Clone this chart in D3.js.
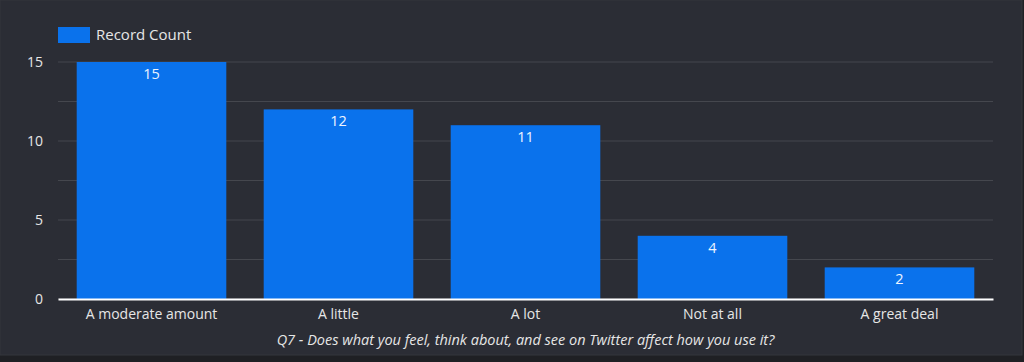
<!DOCTYPE html>
<html>
<head>
<meta charset="utf-8">
<script src="https://cdn.jsdelivr.net/npm/d3@7"></script>
<style>
  html, body { margin: 0; padding: 0; background: #1f2024; }
  svg { display: block; }
  svg text { font-family: "Open Sans", "Noto Sans", sans-serif; }
</style>
</head>
<body>
<div class="chart"></div>
<script>
// data
var categories = ["A moderate amount", "A little", "A lot", "Not at all", "A great deal"];
var counts = [15, 12, 11, 4, 2];
var gridTicks = [0, 2.5, 5, 7.5, 10, 12.5, 15];
var labelTicks = [0, 5, 10, 15];
var seriesName = "Record Count";
var axisTitle = "Q7 - Does what you feel, think about, and see on Twitter affect how you use it?";

var width = 1024;
var height = 362;
var margin = {top: 62, right: 31, bottom: 63, left: 58};

var svg = d3.select(".chart").append("svg")
  .attr("width", width)
  .attr("height", height);

// achtergrondpaneel met randje
svg.append("rect")
  .attr("x", 0).attr("y", 0)
  .attr("width", 1022).attr("height", 355)
  .attr("fill", "#2b2d35")
  .attr("stroke", "#34363d")
  .attr("stroke-width", 1);

var x = d3.scaleBand()
  .domain(categories)
  .range([margin.left, width - margin.right])
  .paddingInner(0.2)
  .paddingOuter(0.1);

var y = d3.scaleLinear()
  .domain([0, 15])
  .range([height - margin.bottom, margin.top]);

// rasterlijnen
svg.append("g")
  .selectAll("line")
  .data(gridTicks)
  .enter()
  .append("line")
  .attr("x1", margin.left)
  .attr("x2", width - margin.right)
  .attr("y1", d => y(d))
  .attr("y2", d => y(d))
  .attr("stroke", "#45474e")
  .attr("stroke-width", 1);

// y-as labels
var yAxis = d3.axisLeft(y)
  .tickValues(labelTicks)
  .tickSize(0)
  .tickPadding(15);
var yg = svg.append("g")
  .attr("transform", "translate(" + margin.left + ",0)")
  .call(yAxis)
  .attr("font-family", null);
yg.select(".domain").remove();
yg.selectAll("text")
  .attr("fill", "#e6e6e6")
  .style("font-size", "14px");

// staven
svg.append("g")
  .selectAll("rect")
  .data(counts)
  .enter()
  .append("rect")
  .attr("x", (d, i) => x(categories[i]))
  .attr("y", d => y(d))
  .attr("width", x.bandwidth())
  .attr("height", d => y(0) - y(d))
  .attr("fill", "#0a72ec");

// waardes in de staven
svg.append("g")
  .selectAll("text")
  .data(counts)
  .enter()
  .append("text")
  .attr("x", (d, i) => x(categories[i]) + x.bandwidth() / 2)
  .attr("y", d => y(d) + 17)
  .attr("text-anchor", "middle")
  .attr("fill", "#eef4ff")
  .style("font-size", "14.5px")
  .text(d => d);

// x-as
var xAxis = d3.axisBottom(x)
  .tickSize(0)
  .tickPadding(10);
var xg = svg.append("g")
  .attr("transform", "translate(0," + y(0) + ")")
  .call(xAxis)
  .attr("font-family", null);
xg.select(".domain")
  .attr("stroke", "#ffffff")
  .attr("stroke-width", 2);
xg.selectAll("text")
  .attr("fill", "#e6e6e6")
  .style("font-size", "14px");

// as-titel
svg.append("text")
  .attr("x", (margin.left + width - margin.right) / 2)
  .attr("y", 345)
  .attr("text-anchor", "middle")
  .attr("fill", "#e6e6e6")
  .style("font-size", "14.5px")
  .style("font-style", "italic")
  .text(axisTitle);

// legende
var legend = svg.append("g")
  .attr("transform", "translate(58,27)");
legend.append("rect")
  .attr("width", 32)
  .attr("height", 16)
  .attr("fill", "#0a72ec");
legend.append("text")
  .attr("x", 38)
  .attr("y", 13)
  .attr("fill", "#e6e6e6")
  .style("font-size", "15px")
  .text(seriesName);
</script>
</body>
</html>
